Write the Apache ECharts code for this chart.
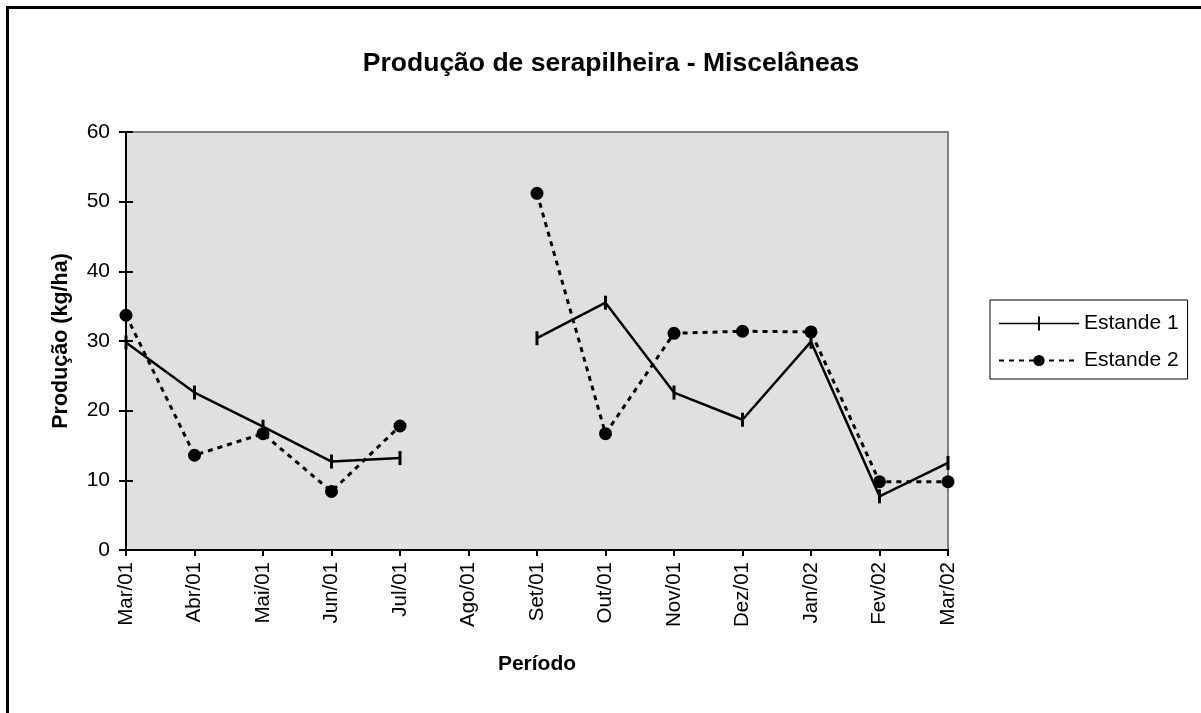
<!DOCTYPE html>
<html>
<head>
<meta charset="utf-8">
<script src="https://cdn.jsdelivr.net/npm/echarts@6/dist/echarts.min.js"></script>
<style>
  html, body { margin: 0; padding: 0; background: #fff; }
  #chart { width: 1201px; height: 713px; }
</style>
</head>
<body>
<div id="chart"></div>
<script>
// categorias (meses)
const periodos = ["Mar/01", "Abr/01", "Mai/01", "Jun/01", "Jul/01", "Ago/01", "Set/01",
  "Out/01", "Nov/01", "Dez/01", "Jan/02", "Fev/02", "Mar/02"];
// Ago/01 sem coleta -> null
const estande1 = [29.8, 22.6, 17.7, 12.7, 13.2, null, 30.4, 35.5, 22.6, 18.7, 29.9, 7.7, 12.5];
const estande2 = [33.7, 13.6, 16.7, 8.4, 17.8, null, 51.2, 16.7, 31.1, 31.4, 31.3, 9.8, 9.8];
const yTicks = [0, 10, 20, 30, 40, 50, 60];

const FONT = "Liberation Sans";
const chart = echarts.init(document.getElementById("chart"));

const xBase = {
  type: "category",
  data: periodos,
  boundaryGap: false,
  axisLine: { lineStyle: { color: "#000", width: 2 } },
  splitLine: { show: false },
};
const yBase = {
  type: "value",
  min: yTicks[0],
  max: yTicks[yTicks.length - 1],
  interval: 10,
  axisLine: { show: true, lineStyle: { color: "#000", width: 2 } },
  splitLine: { show: false },
};

chart.setOption({
  animation: false,
  backgroundColor: "#fff",
  textStyle: { fontFamily: FONT },
  title: {
    text: "Produção de serapilheira - Miscelâneas",
    left: 606,
    textAlign: "center",
    top: 45,
    textStyle: { fontFamily: FONT, fontSize: 26.5, fontWeight: "bold", color: "#000" },
  },
  grid: {
    left: 126,
    right: 253,
    top: 132,
    bottom: 163,
    show: true,
    backgroundColor: "#e0e0e0",
    borderColor: "#808080",
    borderWidth: 2,
  },
  legend: {
    orient: "vertical",
    left: 990,
    top: 300,
    padding: [13, 9, 8, 8],
    itemGap: 16,
    itemWidth: 80,
    itemHeight: 14,
    borderColor: "#000",
    borderWidth: 1,
    backgroundColor: "#fff",
    textStyle: { fontFamily: FONT, fontSize: 21, color: "#000" },
    data: [
      { name: "Estande 1", icon: "path://M0,6.2h80v1.6h-80z M39,0h2v14h-2z" },
      "Estande 2",
    ],
  },
  xAxis: [
    Object.assign({}, xBase, {
      name: "Período",
      nameLocation: "middle",
      nameGap: 104,
      nameTextStyle: { fontFamily: FONT, fontSize: 21, fontWeight: "bold", color: "#000" },
      axisTick: { show: true, length: 6, lineStyle: { color: "#000", width: 2 } },
      axisLabel: { rotate: 90, margin: 12, fontFamily: FONT, fontSize: 20.5, color: "#000" },
    }),
    Object.assign({}, xBase, {
      axisTick: { show: true, inside: true, length: 6, lineStyle: { color: "#000", width: 2 } },
      axisLabel: { show: false },
    }),
  ],
  yAxis: [
    Object.assign({}, yBase, {
      name: "Produção (kg/ha)",
      nameLocation: "middle",
      nameGap: 54,
      nameTextStyle: { fontFamily: FONT, fontSize: 21.5, fontWeight: "bold", color: "#000" },
      axisTick: { show: true, length: 7, lineStyle: { color: "#000", width: 2 } },
      axisLabel: { margin: 16, fontFamily: FONT, fontSize: 21, color: "#000" },
    }),
    Object.assign({}, yBase, {
      position: "left",
      axisTick: { show: true, inside: true, length: 7, lineStyle: { color: "#000", width: 2 } },
      axisLabel: { show: false },
    }),
  ],
  series: [
    {
      name: "Estande 1",
      type: "line",
      data: estande1,
      connectNulls: false,
      symbol: "rect",
      symbolSize: [3, 14],
      showAllSymbol: true,
      lineStyle: { color: "#000", width: 2.5 },
      itemStyle: { color: "#000" },
    },
    {
      name: "Estande 2",
      type: "line",
      data: estande2,
      connectNulls: false,
      symbol: "circle",
      symbolSize: 13,
      showAllSymbol: true,
      lineStyle: { color: "#000", width: 3, type: [5, 5] },
      itemStyle: { color: "#000" },
      z: 3,
    },
  ],
  graphic: [
    {
      type: "rect",
      shape: { x: 7.5, y: 7.5, width: 1400, height: 900 },
      style: { fill: "none", stroke: "#000", lineWidth: 3 },
      silent: true,
    },
  ],
});
</script>
</body>
</html>
